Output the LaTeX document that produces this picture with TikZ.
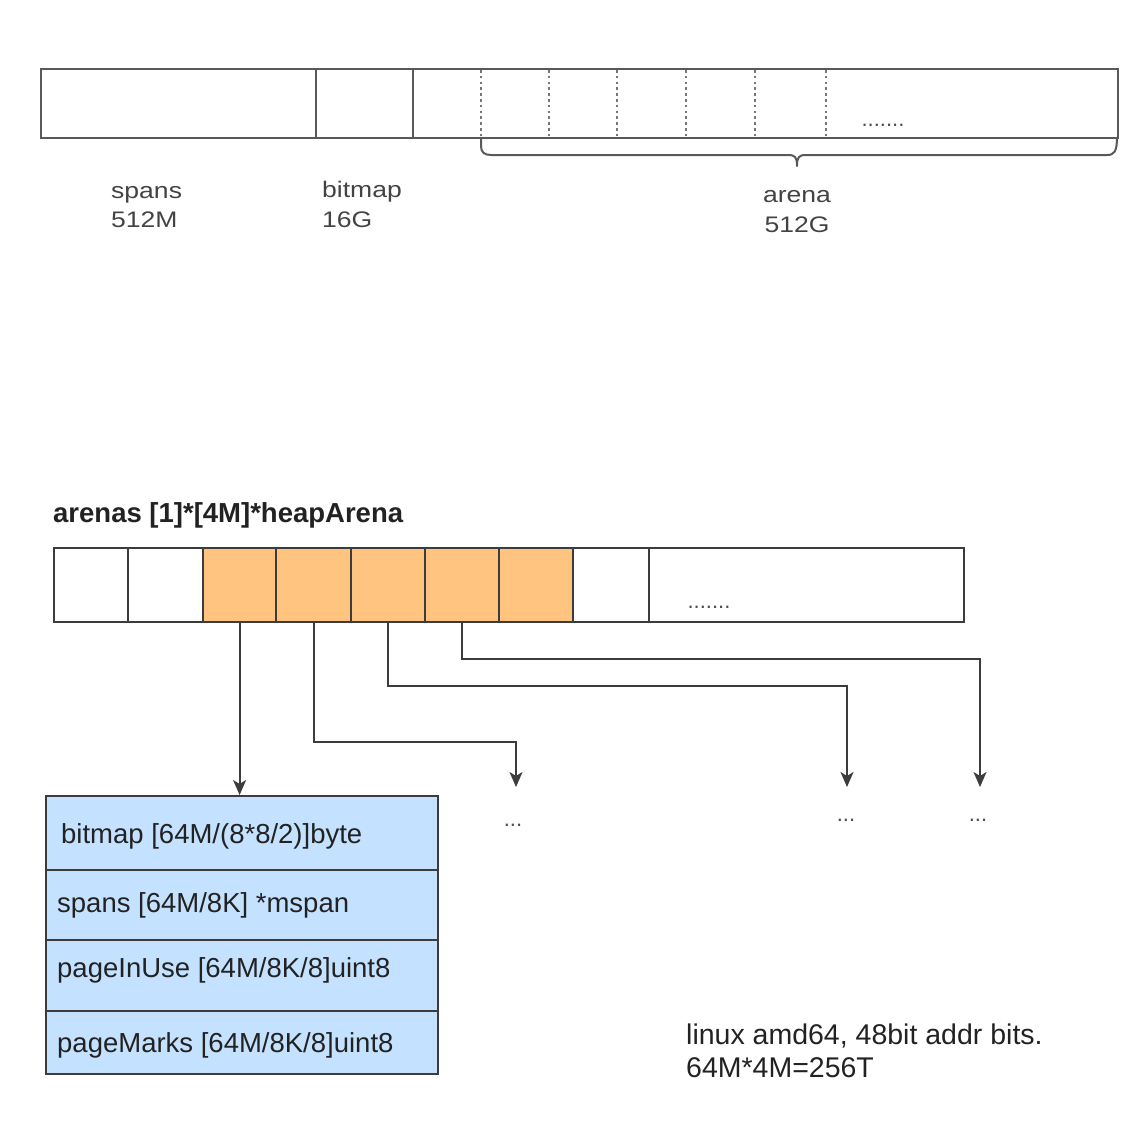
\documentclass[tikz,border=0pt]{standalone}
\usepackage{fontspec}
\setmainfont{Liberation Sans}
\newfontfamily\widefont[FakeStretch=1.18]{Liberation Sans}
\usetikzlibrary{arrows.meta}
\definecolor{lnc}{HTML}{3C3C3C}
\definecolor{txc}{HTML}{222222}
\definecolor{orng}{HTML}{FFC480}
\definecolor{blu}{HTML}{C4E2FF}
\begin{document}
\begin{tikzpicture}[x=1pt,y=-1pt,
  cell/.style={draw=lnc,line width=2.2pt,inner sep=0pt,anchor=north west,minimum height=74pt},
  tcell/.style={draw=lnc!85,line width=2.2pt,inner sep=0pt,anchor=north west,minimum height=69pt},
  ocell/.style={cell,fill=orng},
  hrow/.style={draw=lnc,line width=2.2pt,fill=blu,inner sep=0pt,anchor=north west,minimum width=392pt},
  lbl/.style={text=txc!85,font=\widefont\fontsize{22.5}{26}\selectfont,inner sep=0pt,anchor=base west},
  rowtxt/.style={text=txc,font=\fontsize{27.5}{32}\selectfont,inner sep=0pt,anchor=base west},
  notetxt/.style={text=txc,font=\fontsize{28.5}{34}\selectfont,inner sep=0pt,anchor=base west},
  dots/.style={text=txc!80,font=\fontsize{22}{26}\selectfont,inner sep=0pt,anchor=base},
  dotl/.style={draw=lnc!70,line width=2.4pt,dash pattern=on 2.6pt off 3.2pt},
  arr/.style={draw=lnc,line width=2pt,-{Stealth[length=15pt,width=13pt,inset=4pt]}}
]
\useasboundingbox (0,0) rectangle (1138,1130);
% ---- top memory bar ----
\node[tcell,minimum width=275pt] (spanscell) at (40,68) {};
\node[tcell,minimum width=97pt] (bitmapcell) at (315,68) {};
\node[tcell,minimum width=705pt] (arenacell) at (412,68) {};
\foreach \x in {481,549,617,686,755,826}{
  \draw[dotl] (\x,70) -- (\x,136);
}
\node[dots] (topdots) at (883,126) {.......};
% brace
\draw[lnc!85,line width=2pt,line join=round] (481,137) -- (481,146) .. controls (481,152) and (484,155) .. (491,155)
  -- (788,155) .. controls (795,155) and (797,157) .. (797,166)
  .. controls (797,157) and (799,155) .. (806,155)
  -- (1107,155) .. controls (1114,155) and (1117,152) .. (1117,137);
\node[lbl] (spanslbl) at (111,198) {spans};
\node[lbl] (spanssz) at (111,227) {512M};
\node[lbl] (bitmaplbl) at (322,197) {bitmap};
\node[lbl] (bitmapsz) at (322,227) {16G};
\node[lbl,anchor=base] (arenalbl) at (797,202) {arena};
\node[lbl,anchor=base] (arenasz) at (797,232) {512G};
% ---- arenas array ----
\node[text=txc,font=\bfseries\fontsize{27.5}{32}\selectfont,inner sep=0pt,anchor=base west] (title) at (53,522) {arenas [1]*[4M]*heapArena};
\node[cell,minimum width=74pt] (a1) at (53,547) {};
\node[cell,minimum width=75pt] (a2) at (127,547) {};
\node[ocell,minimum width=73pt] (a3) at (202,547) {};
\node[ocell,minimum width=75pt] (a4) at (275,547) {};
\node[ocell,minimum width=74pt] (a5) at (350,547) {};
\node[ocell,minimum width=74pt] (a6) at (424,547) {};
\node[ocell,minimum width=74pt] (a7) at (498,547) {};
\node[cell,minimum width=76pt] (a8) at (572,547) {};
\node[cell,minimum width=315pt] (a9) at (648,547) {};
\node[dots] (rowdots) at (709,608) {.......};
% ---- heapArena box ----
\node[hrow,minimum height=74pt] (r1) at (45,795) {};
\node[hrow,minimum height=70pt] (r2) at (45,869) {};
\node[hrow,minimum height=71pt] (r3) at (45,939) {};
\node[hrow,minimum height=63pt] (r4) at (45,1010) {};
\node[rowtxt] (t1) at (61,843) {bitmap [64M/(8*8/2)]byte};
\node[rowtxt] (t2) at (57,912) {spans [64M/8K] *mspan};
\node[rowtxt] (t3) at (57,977) {pageInUse [64M/8K/8]uint8};
\node[rowtxt] (t4) at (57,1052) {pageMarks [64M/8K/8]uint8};
% ---- connectors ----
\coordinate (e2) at (516,787);
\coordinate (e3) at (847,787);
\coordinate (e4) at (980,787);
\draw[arr] (a3.south) -- (a3.south |- r1.north);
\draw[arr] (a4.south) -- ++(0,119) -| (e2);
\draw[arr] (a5.south) -- ++(0,63) -| (e3);
\draw[arr] (a6.south) -- ++(0,36) -| (e4);
\node[dots] (d2) at (513,826) {...};
\node[dots] (d3) at (846,821) {...};
\node[dots] (d4) at (978,821) {...};
% ---- note ----
\node[notetxt] (note1) at (686,1044) {linux amd64, 48bit addr bits.};
\node[notetxt] (note2) at (686,1077) {64M*4M=256T};
\end{tikzpicture}
\end{document}
